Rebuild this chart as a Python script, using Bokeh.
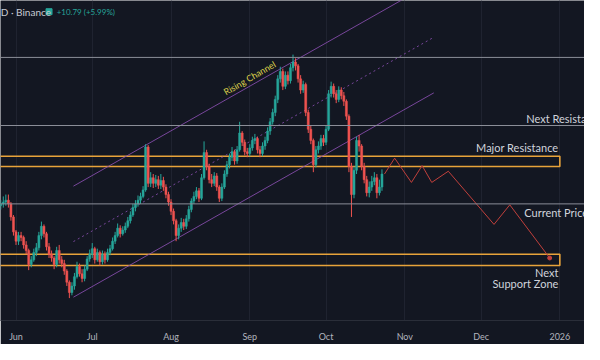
from bokeh.plotting import figure
from bokeh.models import ColumnDataSource, Label, FixedTicker, Range1d, Span
from bokeh.embed import file_html
from bokeh.resources import INLINE

# ---------------- data (day index: 0 = 2025-06-01, daily candles) ----------------
first_day = -6
first_open = 176
closes = [
    177, 178, 179, 177, 170, 162,
    157, 160, 159, 155, 152, 144.5, 147, 151, 153.5, 160,
    165, 161, 154, 150, 148, 144.5, 152, 147, 145, 141,
    135, 129.5, 133, 138, 143.5, 139.5, 137, 142, 147.5, 150,
    153, 147, 151, 146, 150, 147, 151, 153, 157, 160,
    164, 161, 163, 165, 168, 171, 175, 177, 179, 181,
    184.5, 207.5, 188, 191, 188, 190, 187, 189.5, 186, 182,
    178, 173, 168, 160, 164, 167, 165, 169, 174, 178.5,
    181, 184, 180, 191, 204.5, 197, 190, 188, 192, 186,
    180, 186, 193, 198, 202, 205, 200, 206, 215, 210,
    205, 204, 207, 211, 212, 206, 204, 208, 211, 216,
    221, 226, 233, 244, 248, 240, 246, 243, 250, 253,
    251, 244, 238, 241, 226, 217, 211, 198, 206, 208,
    212, 210, 217, 236, 240, 236, 233, 238, 235, 232,
    224, 197, 182, 195, 211, 208, 197, 190, 183, 186,
    189, 191, 183, 186, 193,
]
highs = [
    179, 181, 182, 182, 178, 171,
    163, 162, 162, 160, 157, 153, 149, 153, 156, 162,
    167.5, 166, 162, 156, 152, 149, 154, 155, 149, 147,
    142, 136, 135, 140, 146, 145, 142, 144, 149, 152.5,
    156, 154, 153, 152, 152, 151.5, 153, 155, 159, 162,
    166.5, 165.5, 165, 167, 170, 173, 177, 179, 181.5, 183,
    186.5, 209, 208.5, 194, 193, 192.5, 192, 193, 191.5, 187.5,
    183.5, 179.5, 174.5, 169, 166, 169.5, 169, 171, 176, 180,
    183.5, 186, 185.5, 193, 210.5, 206, 198.5, 193, 194, 193.5,
    187, 188, 195, 200, 204, 207.5, 206, 208, 221, 216,
    211.5, 207, 209, 213, 214.5, 213, 208, 210, 213, 218,
    223, 228, 235, 246, 250.5, 249.5, 248, 248, 252, 257,
    255, 252, 246, 243, 242, 227.5, 219, 212, 208, 210.5,
    214, 214, 219, 238, 242.5, 241.5, 238, 240, 239.5, 237,
    233, 225, 199, 197, 213, 214, 209, 199, 192, 189,
    192, 194, 193, 190, 195.5,
]
lows = [
    174, 175, 176, 175, 168, 160,
    155, 155, 157, 153, 150, 141.5, 143, 146, 149, 152,
    158, 159, 152, 148, 146, 142, 143, 145, 143, 139,
    133, 126.5, 128, 131, 137, 138, 135, 135.5, 141, 146,
    148, 145, 146, 144, 144.5, 145, 146, 149.5, 152, 155.5,
    159, 159, 160, 161.5, 164, 166.5, 170, 173, 175.5, 177,
    180, 183.5, 186, 186, 185.5, 186, 185, 185, 184, 180,
    176, 171, 166, 157, 158, 162, 163, 163.5, 167.5, 172.5,
    177, 179.5, 178, 179, 190, 195, 188, 186, 186.5, 184,
    178, 178.5, 185, 191.5, 196, 200, 198, 198.5, 205, 208,
    203, 202, 202.5, 205.5, 209, 204, 202, 202.5, 206, 209.5,
    214, 219.5, 224, 231, 242, 238, 238.5, 241, 241.5, 248,
    248.5, 242, 236, 236.5, 224, 215, 209, 194, 196.5, 204,
    206, 208, 208.5, 216, 234, 234, 231, 231.5, 233, 229.5,
    222, 194, 170, 180, 193, 205, 195, 188, 181, 180.5,
    184, 187, 180, 181.5, 184,
]

month_ticks = [0, 30, 61, 92, 122, 153, 183, 214]
month_labels = ["Jun", "Jul", "Aug", "Sep", "Oct", "Nov", "Dec", "2026"]

top_level = 255.5
next_resistance = 219
current_level = 177
major_resistance_zone = [197, 202.5]
support_zone = [144, 150]
zone_end_day = 214

channel_days = [22.6, 164.4]
channel_upper = [186.5, 296.0]
channel_mid = [156.8, 266.3]
channel_lower = [127.0, 236.5]

proj_days = [145, 149.0, 155.6, 159.8, 163.6, 170.1, 188.1, 194.3, 210.0]
proj_prices = [193, 201.5, 188.5, 197.5, 188.5, 194.5, 166, 176.5, 148]

# ---------------- styling ----------------
BG = "#131722"
UP = "#26a69a"
DOWN = "#ef5350"
ORANGE = "#e8a33a"
LEVEL = "#8b8e98"
PURPLE = "#8a4fb0"
FONT = "Lato"

days = list(range(first_day, first_day + len(closes)))
opens = [first_open] + closes[:-1]
tops = [max(o, c) for o, c in zip(opens, closes)]
bottoms = [min(o, c) for o, c in zip(opens, closes)]
colors = [UP if c >= o else DOWN for o, c in zip(opens, closes)]

src = ColumnDataSource(dict(x=days, o=opens, c=closes, h=highs, l=lows,
                            top=tops, bottom=bottoms, color=colors))

p = figure(width=584, height=344, output_backend="svg", toolbar_location=None,
           x_range=Range1d(-6.1, 223.7), y_range=Range1d(114.5, 286),
           background_fill_color=BG, border_fill_color=BG, min_border=0,
           outline_line_color=None)
p.yaxis.visible = False
p.xgrid.ticker = FixedTicker(ticks=month_ticks)
p.xgrid.grid_line_color = "#1f2330"
p.ygrid.grid_line_color = None

ax = p.xaxis[0]
ax.ticker = FixedTicker(ticks=month_ticks)
ax.major_label_overrides = {t: l for t, l in zip(month_ticks, month_labels)}
ax.major_label_text_color = "#b2b5be"
ax.major_label_text_font = FONT
ax.major_label_text_font_size = "9px"
ax.major_tick_line_color = None
ax.minor_tick_line_color = None
ax.axis_line_color = "#2a2e39"
ax.major_label_standoff = 4

# horizontal levels
for lvl in [top_level, next_resistance, current_level]:
    p.add_layout(Span(location=lvl, dimension="width", line_color=LEVEL, line_width=1))

# zones
p.quad(left=[-20, -20], right=[zone_end_day, zone_end_day],
       bottom=[major_resistance_zone[0], support_zone[0]],
       top=[major_resistance_zone[1], support_zone[1]],
       fill_alpha=0, line_color=ORANGE, line_width=1.6)

# channel
p.line(channel_days, channel_upper, line_color=PURPLE, line_width=1, line_alpha=0.85)
p.line(channel_days, channel_lower, line_color=PURPLE, line_width=1, line_alpha=0.85)
p.line(channel_days, channel_mid, line_color=PURPLE, line_width=1, line_alpha=0.85, line_dash="2 3")

# candles
p.segment(x0="x", x1="x", y0="l", y1="h", color="color", line_width=1, source=src)
p.vbar(x="x", width=0.8, top="top", bottom="bottom", fill_color="color",
       line_color="color", line_width=0.5, source=src)

# projection path
p.line(proj_days, proj_prices, line_color="#c0403c", line_width=1)
p.scatter([proj_days[-1]], [proj_prices[-1]], size=4, color="#c0403c")

# labels
def lab(x, y, t, align="left", color="#d1d4dc", size="11px", angle=0, baseline="middle"):
    p.add_layout(Label(x=x, y=y, text=t, text_align=align, text_baseline=baseline,
                       text_color=color, text_font=FONT, text_font_size=size,
                       angle=angle, angle_units="deg"))

lab(200.8, 223, "Next Resistance")
lab(213.4, 207, "Major Resistance", align="right")
lab(200.0, 172.5, "Current Price")
lab(213.4, 140, "Next", align="right")
lab(213.4, 134.5, "Support Zone", align="right")
lab(91.9, 244.5, "Rising Channel", align="center", color="#dccf4a", size="9px", angle=30)

lab(-6.0, 280, "D · Binance", size="10px", color="#c9ccd4")
p.scatter([13.0], [280], marker="square", size=6, color=UP)
lab(16.0, 280, "+10.79 (+5.99%)", size="8px", color=UP)

open("out.html", "w").write(file_html(p, INLINE))
